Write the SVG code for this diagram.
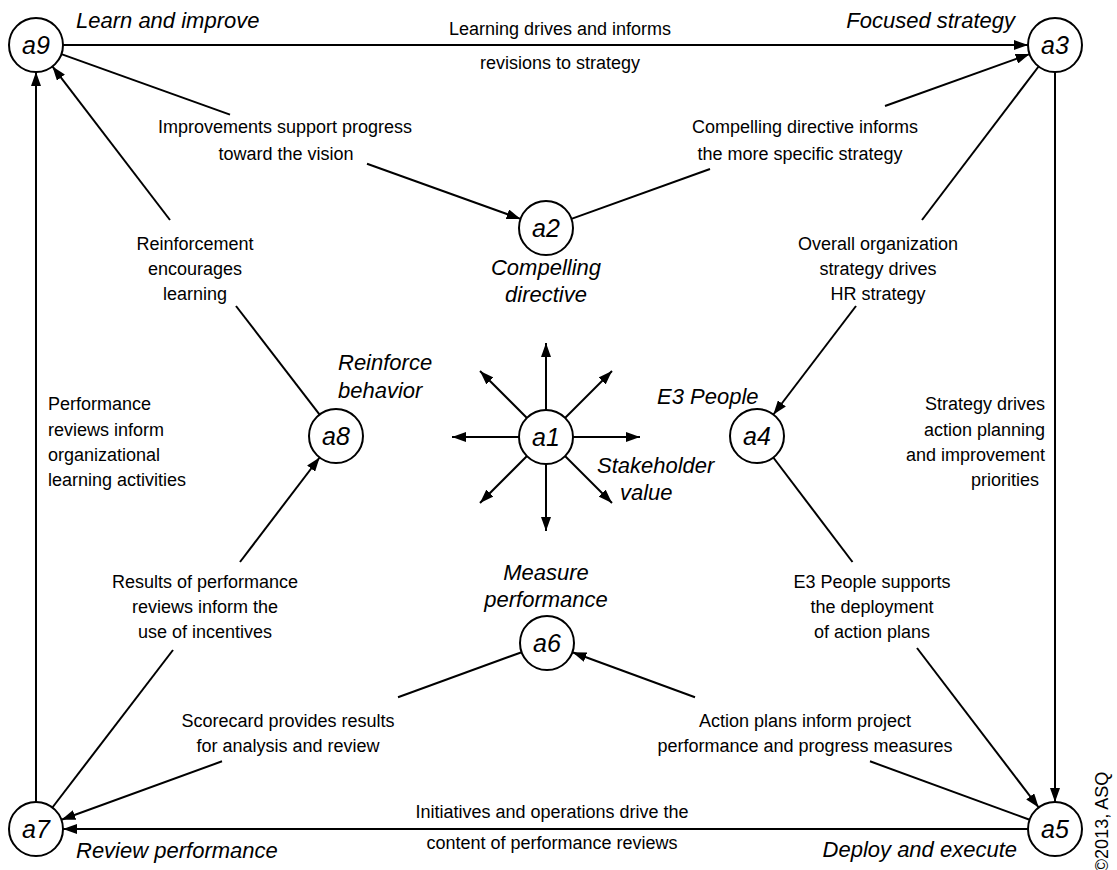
<svg xmlns="http://www.w3.org/2000/svg" width="1117" height="870" viewBox="0 0 1117 870">
<defs>
<marker id="ah" viewBox="0 0 14 10" refX="14" refY="5" markerWidth="14" markerHeight="10" markerUnits="userSpaceOnUse" orient="auto">
<path d="M0,0 L14,5 L0,10 Z" fill="#000"/>
</marker>
<style>
.n circle{fill:#fff;stroke:#000;stroke-width:2}
.nt{font-family:"Liberation Sans",Arial,sans-serif;font-style:italic;font-size:25px;text-anchor:middle;fill:#000}
.il{font-family:"Liberation Sans",Arial,sans-serif;font-style:italic;font-size:22px;fill:#000}
.el{font-family:"Liberation Sans",Arial,sans-serif;font-size:18px;fill:#000}
.c{text-anchor:middle}
.e{text-anchor:end}
#conn line{stroke:#000;stroke-width:2;fill:none}
.a{marker-end:url(#ah)}
</style>
</defs>
<rect width="1117" height="870" fill="#fff"/>
<g id="conn">
<line class="a" x1="63" y1="45" x2="1028" y2="45"/>
<line x1="61.4" y1="54.1" x2="230" y2="114.6"/>
<line class="a" x1="367" y1="163.8" x2="520.6" y2="218.9"/>
<line x1="571.4" y1="218.9" x2="710" y2="169"/>
<line class="a" x1="885" y1="106" x2="1029.6" y2="54.1"/>
<line x1="1038.6" y1="66.5" x2="922" y2="220"/>
<line class="a" x1="856" y1="306" x2="773.4" y2="414.5"/>
<line class="a" x1="1055" y1="72" x2="1055" y2="802"/>
<line x1="773.3" y1="457.5" x2="852.5" y2="562"/>
<line class="a" x1="917" y1="648" x2="1038.7" y2="807.5"/>
<line x1="1029.6" y1="819.7" x2="870" y2="761.3"/>
<line class="a" x1="695" y1="697.2" x2="572.4" y2="652.3"/>
<line x1="521.6" y1="652.2" x2="398" y2="697.2"/>
<line class="a" x1="222" y1="761.3" x2="61.4" y2="819.8"/>
<line class="a" x1="1028" y1="829" x2="63" y2="829"/>
<line x1="52.4" y1="807.5" x2="173" y2="650"/>
<line class="a" x1="240" y1="562" x2="319.6" y2="457.5"/>
<line class="a" x1="36" y1="802" x2="36" y2="72"/>
<line x1="319.6" y1="414.6" x2="236" y2="306"/>
<line class="a" x1="170" y1="220" x2="52.4" y2="66.4"/>
<line class="a" x1="546" y1="410" x2="546" y2="343"/>
<line class="a" x1="546" y1="464" x2="546" y2="531"/>
<line class="a" x1="519" y1="437" x2="452" y2="437"/>
<line class="a" x1="573" y1="437" x2="640" y2="437"/>
<line class="a" x1="527" y1="418" x2="480" y2="371"/>
<line class="a" x1="565" y1="418" x2="612" y2="371"/>
<line class="a" x1="527" y1="456" x2="480" y2="503"/>
<line class="a" x1="565" y1="456" x2="612" y2="503"/>
</g>
<g id="a9" class="n"><circle cx="36" cy="45" r="27"/><text class="nt" x="36" y="54">a9</text></g>
<g id="a3" class="n"><circle cx="1055" cy="45" r="27"/><text class="nt" x="1055" y="54">a3</text></g>
<g id="a2" class="n"><circle cx="546" cy="228" r="27"/><text class="nt" x="546" y="237">a2</text></g>
<g id="a1" class="n"><circle cx="546" cy="437" r="27"/><text class="nt" x="546" y="446">a1</text></g>
<g id="a8" class="n"><circle cx="336" cy="436" r="27"/><text class="nt" x="336" y="445">a8</text></g>
<g id="a4" class="n"><circle cx="757" cy="436" r="27"/><text class="nt" x="757" y="445">a4</text></g>
<g id="a6" class="n"><circle cx="547" cy="643" r="27"/><text class="nt" x="547" y="652">a6</text></g>
<g id="a7" class="n"><circle cx="36" cy="829" r="27"/><text class="nt" x="36" y="838">a7</text></g>
<g id="a5" class="n"><circle cx="1055" cy="829" r="27"/><text class="nt" x="1055" y="838">a5</text></g>
<g id="labels">
<text class="il" x="76" y="28">Learn and improve</text>
<text class="il e" x="1015" y="28">Focused strategy</text>
<text class="il c" x="546" y="275">Compelling</text>
<text class="il c" x="546" y="302">directive</text>
<text class="il" x="338" y="370">Reinforce</text>
<text class="il" x="338" y="398">behavior</text>
<text class="il" x="657" y="404">E3 People</text>
<text class="il" x="597" y="473">Stakeholder</text>
<text class="il" x="620" y="500">value</text>
<text class="il c" x="546" y="580">Measure</text>
<text class="il c" x="546" y="607">performance</text>
<text class="il" x="76" y="858">Review performance</text>
<text class="il e" x="1017" y="857">Deploy and execute</text>
<text class="el c" transform="translate(1108,822) rotate(-90)" font-size="15">©2013, ASQ</text>
<text class="el c" x="560" y="35">Learning drives and informs</text>
<text class="el c" x="560" y="69">revisions to strategy</text>
<text class="el c" x="285" y="133">Improvements support progress</text>
<text class="el c" x="286" y="160">toward the vision</text>
<text class="el c" x="805" y="133">Compelling directive informs</text>
<text class="el c" x="800" y="160">the more specific strategy</text>
<text class="el c" x="195" y="250">Reinforcement</text>
<text class="el c" x="195" y="275">encourages</text>
<text class="el c" x="195" y="300">learning</text>
<text class="el c" x="878" y="250">Overall organization</text>
<text class="el c" x="878" y="275">strategy drives</text>
<text class="el c" x="878" y="300">HR strategy</text>
<text class="el" x="48" y="410">Performance</text>
<text class="el" x="48" y="436">reviews inform</text>
<text class="el" x="48" y="461">organizational</text>
<text class="el" x="48" y="486">learning activities</text>
<text class="el e" x="1045" y="410">Strategy drives</text>
<text class="el e" x="1045" y="436">action planning</text>
<text class="el e" x="1045" y="461">and improvement</text>
<text class="el e" x="1039" y="486">priorities</text>
<text class="el c" x="205" y="588">Results of performance</text>
<text class="el c" x="205" y="613">reviews inform the</text>
<text class="el c" x="205" y="638">use of incentives</text>
<text class="el c" x="872" y="588">E3 People supports</text>
<text class="el c" x="872" y="613">the deployment</text>
<text class="el c" x="872" y="638">of action plans</text>
<text class="el c" x="288" y="727">Scorecard provides results</text>
<text class="el c" x="288" y="752">for analysis and review</text>
<text class="el c" x="805" y="727">Action plans inform project</text>
<text class="el c" x="805" y="752">performance and progress measures</text>
<text class="el c" x="552" y="818">Initiatives and operations drive the</text>
<text class="el c" x="552" y="849">content of performance reviews</text>
</g>
</svg>
